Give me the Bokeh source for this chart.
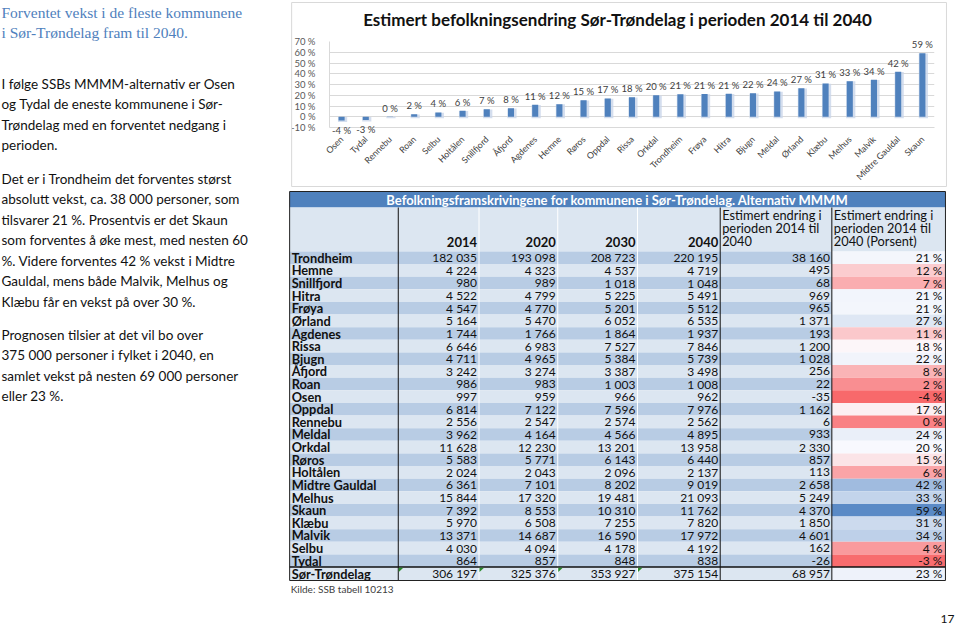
import math
from bokeh.plotting import figure
from bokeh.layouts import row, column
from bokeh.models import Range1d, FixedTicker, ColumnDataSource
from bokeh.core.properties import value
from bokeh.embed import file_html
from bokeh.resources import INLINE

# ---------------- data ----------------
municipalities = ["Trondheim", "Hemne", "Snillfjord", "Hitra", "Frøya", "Ørland", "Agdenes",
                  "Rissa", "Bjugn", "Åfjord", "Roan", "Osen", "Oppdal", "Rennebu", "Meldal",
                  "Orkdal", "Røros", "Holtålen", "Midtre Gauldal", "Melhus", "Skaun", "Klæbu",
                  "Malvik", "Selbu", "Tydal"]
pop_2014 = [182035, 4224, 980, 4522, 4547, 5164, 1744, 6646, 4711, 3242, 986, 997, 6814, 2556,
            3962, 11628, 5583, 2024, 6361, 15844, 7392, 5970, 13371, 4030, 864]
pop_2020 = [193098, 4323, 989, 4799, 4770, 5470, 1766, 6983, 4965, 3274, 983, 959, 7122, 2547,
            4164, 12230, 5771, 2043, 7101, 17320, 8553, 6508, 14687, 4094, 857]
pop_2030 = [208723, 4537, 1018, 5225, 5201, 6052, 1864, 7527, 5384, 3387, 1003, 966, 7596, 2574,
            4566, 13201, 6143, 2096, 8202, 19481, 10310, 7255, 16590, 4178, 848]
pop_2040 = [220195, 4719, 1048, 5491, 5512, 6535, 1937, 7846, 5739, 3498, 1008, 962, 7976, 2562,
            4895, 13958, 6440, 2137, 9019, 21093, 11762, 7820, 17972, 4192, 838]
change_abs = [38160, 495, 68, 969, 965, 1371, 193, 1200, 1028, 256, 22, -35, 1162, 6, 933, 2330,
              857, 113, 2658, 5249, 4370, 1850, 4601, 162, -26]
change_pct = [20.96, 11.72, 6.94, 21.43, 21.22, 26.55, 11.07, 18.06, 21.82, 7.90, 2.23, -3.51,
              17.05, 0.23, 23.55, 20.04, 15.35, 5.58, 41.79, 33.13, 59.12, 30.99, 34.41, 4.02, -3.01]
total_name = "Sør-Trøndelag"
total_pops = [306197, 325376, 353927, 375154]
total_change_abs = 68957
total_change_pct = 22.52

chart_categories = ["Osen", "Tydal", "Rennebu", "Roan", "Selbu", "Holtålen", "Snillfjord", "Åfjord",
                    "Agdenes", "Hemne", "Røros", "Oppdal", "Rissa", "Orkdal", "Trondheim", "Frøya",
                    "Hitra", "Bjugn", "Meldal", "Ørland", "Klæbu", "Melhus", "Malvik",
                    "Midtre Gauldal", "Skaun"]
chart_values = [-3.51, -3.01, 0.23, 2.23, 4.02, 5.58, 6.94, 7.90, 11.07, 11.72, 15.35, 17.05, 18.06,
                20.04, 20.96, 21.22, 21.43, 21.82, 23.55, 26.55, 30.99, 33.13, 34.41, 41.79, 59.12]

y_ticks = [-10, 0, 10, 20, 30, 40, 50, 60, 70]
y_tick_labels = ["-10 %", "0 %", "10 %", "20 %", "30 %", "40 %", "50 %", "60 %", "70 %"]

chart_title = "Estimert befolkningsendring Sør-Trøndelag i perioden 2014 til 2040"
table_title = "Befolkningsframskrivingene for kommunene i Sør-Trøndelag. Alternativ MMMM"
year_headers = ["2014", "2020", "2030", "2040"]
change_header = ["Estimert endring i", "perioden 2014 til", "2040"]
pct_header = ["Estimert endring i", "perioden 2014 til", "2040 (Porsent)"]
source_note = "Kilde: SSB tabell 10213"
page_number = "17"

heading_lines = ["Forventet vekst i de fleste kommunene", "i Sør-Trøndelag fram til 2040."]
paragraphs = [
    ["I følge SSBs MMMM-alternativ  er Osen", "og Tydal de eneste kommunene i Sør-",
     "Trøndelag med en forventet nedgang i", "perioden."],
    ["Det er i Trondheim det forventes størst", "absolutt vekst, ca. 38 000 personer, som",
     "tilsvarer 21 %. Prosentvis er det Skaun", "som forventes å øke mest, med nesten 60",
     "%. Videre forventes 42 % vekst i Midtre", "Gauldal, mens både Malvik, Melhus og",
     "Klæbu får en vekst på over 30 %."],
    ["Prognosen tilsier at det vil bo over", "375 000 personer i fylket i 2040, en",
     "samlet vekst på nesten 69 000 personer", "eller 23 %."],
]

# ---------------- styles / page geometry (page pixels) ----------------
SANS = "Lato"
SERIF = "Liberation Serif"
F = value(SANS)
BAR = "#4F81BD"
GRID = "#D9D9D9"
PAGE_W, PAGE_H = 956, 630
LEFT_W = 287
RIGHT_W = PAGE_W - LEFT_W
CHART_H = 189
FRAME_L, FRAME_R = 327, 934          # plot frame of the bar chart (page x)
FRAME_T, FRAME_B = 41, 127           # plot frame of the bar chart (page y)


def fmt(n):
    return f"{n:,}".replace(",", " ")


def pct_label(v):
    return f"{round(v)} %"


# ---------------- left text column ----------------
left = figure(width=LEFT_W, height=PAGE_H, x_range=Range1d(0, LEFT_W), y_range=Range1d(PAGE_H, 0),
              x_axis_type=None, y_axis_type=None, output_backend="svg",
              toolbar_location=None, min_border=0)
left.outline_line_color = None
left.grid.visible = False

head_y = [12 + 20 * k for k in range(len(heading_lines))]
left.text(x=[1] * len(heading_lines), y=head_y, text=heading_lines, text_font=value(SERIF),
          text_font_size="15.5px", text_color="#4F81BD", text_baseline="middle", text_align="left")

para_start = [83, 178, 334]
pitch = 20.5
bx, by, bt = [], [], []
for start, lines in zip(para_start, paragraphs):
    for k, ln in enumerate(lines):
        bx.append(1)
        by.append(start + pitch * k)
        bt.append(ln)
left.text(x=bx, y=by, text=bt, text_font=F, text_font_size="13.5px", text_color="#111111",
          text_baseline="middle", text_align="left")

# ---------------- bar chart ----------------
n = len(chart_categories)
xs = list(range(n))
chart = figure(width=RIGHT_W, height=CHART_H, x_range=Range1d(-0.5, n - 0.5),
               y_range=Range1d(y_ticks[0], y_ticks[-1]),
               output_backend="svg", toolbar_location=None,
               min_border_left=FRAME_L - LEFT_W, min_border_right=PAGE_W - FRAME_R,
               min_border_top=FRAME_T, min_border_bottom=CHART_H - FRAME_B)
chart.outline_line_color = None
chart.xgrid.visible = False
chart.ygrid.ticker = FixedTicker(ticks=y_ticks)
chart.ygrid.grid_line_color = GRID

yax = chart.yaxis[0]
yax.ticker = FixedTicker(ticks=y_ticks)
yax.major_label_overrides = dict(zip(y_ticks, y_tick_labels))
yax.axis_line_color = GRID
yax.major_tick_line_color = None
yax.minor_tick_line_color = None
yax.major_label_text_font = SANS
yax.major_label_text_font_size = "9.5px"
yax.major_label_text_color = "#595959"
yax.major_label_standoff = 8

xax = chart.xaxis[0]
xax.ticker = FixedTicker(ticks=xs)
xax.major_label_overrides = dict(zip(xs, chart_categories))
xax.major_label_orientation = math.pi / 4
xax.axis_line_color = GRID
xax.major_tick_line_color = None
xax.minor_tick_line_color = None
xax.major_label_text_font = SANS
xax.major_label_text_font_size = "8.8px"
xax.major_label_text_color = "#404040"
xax.major_label_standoff = 4

glow = ColumnDataSource(dict(x=[x + 0.04 for x in xs],
                             top=[max(v, 0) - 0.2 for v in chart_values],
                             bottom=[min(v, 0) - 1.4 for v in chart_values]))
chart.vbar(x="x", top="top", bottom="bottom", width=0.38, source=glow,
           fill_color="#C9D6EA", fill_alpha=0.8, line_color=None)
bars = ColumnDataSource(dict(x=xs, top=chart_values))
chart.vbar(x="x", top="top", bottom=0, width=0.25, source=bars, fill_color=BAR, line_color=None)

pos = [i for i, v in enumerate(chart_values) if v >= 0]
neg = [i for i, v in enumerate(chart_values) if v < 0]
chart.text(x=[xs[i] for i in pos], y=[chart_values[i] for i in pos],
           text=[pct_label(chart_values[i]) for i in pos], text_align="center",
           text_baseline="bottom", y_offset=-3, text_font=F, text_font_size="9.5px",
           text_color="#404040", level="annotation")
chart.text(x=[xs[i] for i in neg], y=[chart_values[i] for i in neg],
           text=[pct_label(chart_values[i]) for i in neg], text_align="center",
           text_baseline="top", y_offset=4, text_font=F, text_font_size="9.5px",
           text_color="#404040", level="annotation")

# page pixels -> data units of the chart scales (for title and border box)
px_x = (FRAME_R - FRAME_L) / n
px_y = (FRAME_B - FRAME_T) / (y_ticks[-1] - y_ticks[0])


def cx(px):
    return -0.5 + (px - FRAME_L) / px_x


def cy(py):
    return y_ticks[-1] + (FRAME_T - py) / px_y


chart.text(x=[cx(616)], y=[cy(19)], text=[chart_title], text_align="center",
           text_baseline="middle", text_font=F, text_font_style="bold", text_font_size="17px",
           text_color="#111111", level="annotation")
chart.quad(left=[cx(289)], right=[cx(946)], top=[cy(2)], bottom=[cy(186)], fill_color=None,
           line_color=GRID, line_width=1, level="annotation")

# ---------------- table ----------------
tbl = figure(width=RIGHT_W, height=PAGE_H - CHART_H, x_range=Range1d(FRAME_L, FRAME_R),
             y_range=Range1d(PAGE_H, CHART_H), x_axis_type=None, y_axis_type=None,
             output_backend="svg", toolbar_location=None,
             min_border_left=FRAME_L - LEFT_W, min_border_right=PAGE_W - FRAME_R,
             min_border_top=0, min_border_bottom=0)
tbl.outline_line_color = None
tbl.grid.visible = False

edges = [287, 396, 477, 556, 636, 719, 831, 945]
title_top, title_bot = 191, 207
head_bot = 251
row_h = 12.62
nr = len(municipalities)
row_tops = [head_bot + i * row_h for i in range(nr)]
total_top = head_bot + nr * row_h
total_bot = total_top + 13.5
DARK, LIGHT = "#B8CCE4", "#DCE6F1"

# colour scale for percent column
all_pct = change_pct + [total_change_pct]
vmin, vmax, vmid = min(all_pct), max(all_pct), 19.0
RED, WHITE, BLUE = (248, 105, 107), (252, 252, 255), (90, 138, 198)


def lerp(a, b, t):
    return "#%02x%02x%02x" % tuple(int(round(a[k] + (b[k] - a[k]) * t)) for k in range(3))


def scale_color(v):
    if v <= vmid:
        return lerp(RED, WHITE, (v - vmin) / (vmid - vmin))
    return lerp(WHITE, BLUE, (v - vmid) / (vmax - vmid))


# backgrounds
tbl.quad(left=[edges[0]], right=[edges[-1]], top=[title_top], bottom=[title_bot],
         fill_color="#4F81BD", line_color=None)
tbl.quad(left=[edges[0]], right=[edges[-1]], top=[title_bot], bottom=[head_bot],
         fill_color=LIGHT, line_color=None)
tbl.quad(left=[edges[0]] * nr, right=[edges[6]] * nr, top=row_tops,
         bottom=[t + row_h for t in row_tops],
         fill_color=[DARK if i % 2 == 0 else LIGHT for i in range(nr)], line_color=None)
tbl.quad(left=[edges[0]], right=[edges[6]], top=[total_top], bottom=[total_bot],
         fill_color=LIGHT, line_color=None)
tbl.quad(left=[edges[6]] * (nr + 1), right=[edges[7]] * (nr + 1),
         top=row_tops + [total_top], bottom=[t + row_h for t in row_tops] + [total_bot],
         fill_color=[scale_color(v) for v in all_pct], line_color=None)

# lines
tbl.segment(x0=edges[2:5], x1=edges[2:5], y0=[title_bot] * 3, y1=[total_bot] * 3,
            line_color="white", line_width=1)
inner = [edges[1], edges[5], edges[6]]
tbl.segment(x0=inner, x1=inner, y0=[title_bot] * 3, y1=[total_bot] * 3,
            line_color="#111111", line_width=1)
tbl.segment(x0=[edges[0]], x1=[edges[-1]], y0=[total_top], y1=[total_top],
            line_color="#111111", line_width=1.5)
tbl.quad(left=[edges[0]], right=[edges[-1]], top=[title_top], bottom=[total_bot],
         fill_color=None, line_color="#222222", line_width=1)

# error-indicator triangles in total row
tri_x = [[edges[k] + 0.5, edges[k] + 5, edges[k] + 0.5] for k in range(1, 5)]
tri_y = [[total_top + 0.8, total_top + 0.8, total_top + 5] for k in range(1, 5)]
tbl.patches(xs=tri_x, ys=tri_y, fill_color="#2A8A2A", line_color=None)

# title bar text
tbl.text(x=[(edges[0] + edges[-1]) / 2], y=[(title_top + title_bot) / 2 + 0.5], text=[table_title],
         text_align="center", text_baseline="middle", text_font=F, text_font_style="bold",
         text_font_size="13px", text_color="white")

# header
tbl.text(x=[e - 2 for e in edges[2:6]], y=[241] * 4, text=year_headers, text_align="right",
         text_baseline="middle", text_font=F, text_font_style="bold", text_font_size="13px",
         text_color="#111111")
hy = [214 + 13.3 * k for k in range(3)]
tbl.text(x=[edges[5] + 2] * 3 + [edges[6] + 2] * 3, y=hy + hy, text=change_header + pct_header,
         text_align="left", text_baseline="middle", text_font=F, text_font_size="12.8px",
         text_color="#111111")

# body text
names = municipalities + [total_name]
centers = [t + row_h / 2 for t in row_tops] + [(total_top + total_bot) / 2]
tbl.text(x=[edges[0] + 2] * len(names), y=centers, text=names, text_align="left",
         text_baseline="middle", text_font=F, text_font_style="bold", text_font_size="12.8px",
         text_color="#111111")
columns = [pop_2014 + [total_pops[0]], pop_2020 + [total_pops[1]], pop_2030 + [total_pops[2]],
           pop_2040 + [total_pops[3]], change_abs + [total_change_abs]]
for k, col in enumerate(columns):
    tbl.text(x=[edges[k + 2] - 2] * len(col), y=centers, text=[fmt(v) for v in col],
             text_align="right", text_baseline="middle", text_font=F, text_font_size="12px",
             text_color="#111111")
tbl.text(x=[edges[7] - 3] * len(all_pct), y=centers, text=[pct_label(v) for v in all_pct],
         text_align="right", text_baseline="middle", text_font=F, text_font_size="12px",
         text_color="#111111")

tbl.text(x=[edges[0] + 1], y=[588], text=[source_note], text_align="left", text_baseline="middle",
         text_font=F, text_font_size="10px", text_color="#404040")
tbl.text(x=[954], y=[618], text=[page_number], text_align="right", text_baseline="middle",
         text_font=F, text_font_size="12px", text_color="#111111")

# table spans wider than the aligned frame: draw it at the unclipped annotation level
for r in tbl.renderers:
    r.level = "annotation"

layout = row(left, column(chart, tbl, spacing=0), spacing=0)
open("out.html", "w").write(file_html(layout, INLINE))
